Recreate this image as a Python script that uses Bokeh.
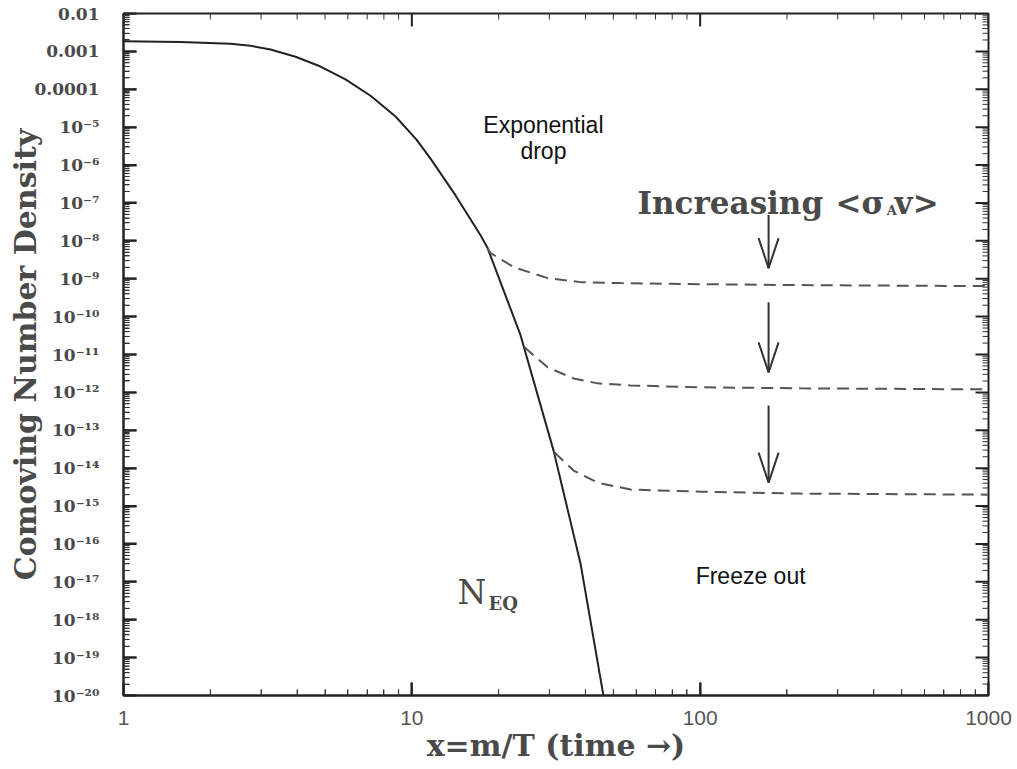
from bokeh.plotting import figure
from bokeh.models import FixedTicker, CustomJSTickFormatter
from bokeh.core.properties import value
from bokeh.embed import file_html
from bokeh.resources import INLINE

# ---- data ----
x_eq = [1.0, 1.577, 2.350, 2.757, 3.236, 3.951, 4.824, 5.888, 7.192, 8.779,
        10.38, 11.61, 14.18, 17.31, 18.31, 23.82, 31.00, 38.47, 46.23]
y_eq = [1.85e-3, 1.76e-3, 1.58e-3, 1.41e-3, 1.12e-3, 7.24e-4, 3.98e-4, 1.82e-4,
        6.76e-5, 1.91e-5, 4.68e-6, 1.48e-6, 1.58e-7, 1.41e-8, 6.46e-9, 3.24e-11,
        2.95e-14, 3.02e-17, 9.55e-21]

x_fo1 = [18.31, 18.75, 22.53, 29.56, 38.47, 52.96, 100.3, 223.0, 1000.0]
y_fo1 = [6.46e-9, 4.75e-9, 2.03e-9, 1.04e-9, 8.13e-10, 7.66e-10, 7.19e-10, 6.78e-10, 6.37e-10]

x_fo2 = [24.59, 29.56, 36.38, 44.07, 57.36, 100.3, 223.0, 1000.0]
y_fo2 = [1.55e-11, 4.58e-12, 2.34e-12, 1.73e-12, 1.53e-12, 1.36e-12, 1.28e-12, 1.20e-12]

x_fo3 = [31.26, 36.38, 44.07, 57.36, 100.3, 223.0, 1000.0]
y_fo3 = [2.59e-14, 8.65e-15, 4.16e-15, 2.72e-15, 2.40e-15, 2.13e-15, 2.00e-15]

arrow_x = 172.7
arrow_y_start = [4.82e-8, 2.40e-10, 4.53e-13]
arrow_y_end = [1.9e-9, 3.38e-12, 4.16e-15]

x_lim = [1.0, 1000.0]
y_lim = [1e-20, 1e-2]
x_tick_values = [1.0, 10.0, 100.0, 1000.0]
x_tick_labels = ["1", "10", "100", "1000"]
y_exponents = list(range(-20, -1))
y_tick_labels = ["10⁻²⁰", "10⁻¹⁹", "10⁻¹⁸", "10⁻¹⁷", "10⁻¹⁶", "10⁻¹⁵", "10⁻¹⁴",
                 "10⁻¹³", "10⁻¹²", "10⁻¹¹", "10⁻¹⁰", "10⁻⁹", "10⁻⁸", "10⁻⁷",
                 "10⁻⁶", "10⁻⁵", "0.0001", "0.001", "0.01"]
y_tick_values = [float("1e%d" % k) for k in y_exponents]

x_minor = [m * float("1e%d" % k) for k in range(0, 3) for m in range(2, 10)]
y_minor = [m * float("1e%d" % k) for k in range(-20, -2) for m in range(2, 10)]

INK = "#222222"
GREY = "#4a4a4a"
SERIF = "DejaVu Serif"
SANS = "Liberation Sans"

# frame geometry (pixels) used for tick lengths and arrow heads
FRAME_W, FRAME_H = 865, 682
MAJOR_PX, MINOR_PX = 13, 6
HEAD_HALF_W, HEAD_LEN = 10, 30

p = figure(width=1017, height=769, x_axis_type="log", y_axis_type="log",
           x_range=(x_lim[0], x_lim[1]), y_range=(y_lim[0], y_lim[1]),
           output_backend="svg", toolbar_location=None,
           min_border_left=123, min_border_right=29,
           min_border_top=13, min_border_bottom=74)
p.xgrid.grid_line_color = None
p.ygrid.grid_line_color = None
p.outline_line_color = INK
p.outline_line_width = 2

xticker = FixedTicker(ticks=x_tick_values, minor_ticks=x_minor)
yticker = FixedTicker(ticks=y_tick_values, minor_ticks=y_minor)

JS = """
let best = 0, bd = 1e9;
for (let i = 0; i < vals.length; i++) {
  const d = Math.abs(Math.log10(tick) - Math.log10(vals[i]));
  if (d < bd) { bd = d; best = i; }
}
return labs[best];
"""
xfmt = CustomJSTickFormatter(args=dict(vals=x_tick_values, labs=x_tick_labels), code=JS)
yfmt = CustomJSTickFormatter(args=dict(vals=y_tick_values, labs=y_tick_labels), code=JS)

def style(ax):
    ax.axis_line_color = INK
    ax.axis_line_width = 2
    ax.major_tick_line_color = INK
    ax.major_tick_line_width = 2
    ax.minor_tick_line_color = "#333333"
    ax.minor_tick_line_width = 1
    ax.major_tick_in = MAJOR_PX
    ax.major_tick_out = 0
    ax.minor_tick_in = MINOR_PX
    ax.minor_tick_out = 0

xa = p.xaxis[0]
xa.ticker = xticker
xa.formatter = xfmt
style(xa)
xa.major_label_text_font = SANS
xa.major_label_text_font_size = "21px"
xa.major_label_text_color = "#555555"
xa.major_label_standoff = 15
xa.axis_label = "x=m/T (time →)"
xa.axis_label_text_font = SERIF
xa.axis_label_text_font_size = "30px"
xa.axis_label_text_font_style = "bold"
xa.axis_label_text_color = GREY
xa.axis_label_standoff = 0

ya = p.yaxis[0]
ya.ticker = yticker
ya.formatter = yfmt
style(ya)
ya.major_label_text_font = SERIF
ya.major_label_text_font_size = "17px"
ya.major_label_text_font_style = "bold"
ya.major_label_text_color = GREY
ya.major_label_standoff = 24
ya.axis_label = "Comoving Number Density"
ya.axis_label_text_font = SERIF
ya.axis_label_text_font_size = "30px"
ya.axis_label_text_font_style = "bold"
ya.axis_label_text_color = GREY
ya.axis_label_standoff = -12

xdec = 3.0 / FRAME_W      # decades per pixel along x
ydec = 18.0 / FRAME_H     # decades per pixel along y

# inward tick marks on the top and right edges (and a copy on left/bottom)
def hticks(vals, px, width, color):
    f = 10 ** (px * xdec)
    n = len(vals)
    p.segment(x0=[x_lim[0]] * n, y0=vals, x1=[x_lim[0] * f] * n, y1=vals,
              line_color=color, line_width=width)
    p.segment(x0=[x_lim[1]] * n, y0=vals, x1=[x_lim[1] / f] * n, y1=vals,
              line_color=color, line_width=width)

def vticks(vals, px, width, color):
    f = 10 ** (px * ydec)
    n = len(vals)
    p.segment(x0=vals, y0=[y_lim[0]] * n, x1=vals, y1=[y_lim[0] * f] * n,
              line_color=color, line_width=width)
    p.segment(x0=vals, y0=[y_lim[1]] * n, x1=vals, y1=[y_lim[1] / f] * n,
              line_color=color, line_width=width)

hticks(y_tick_values, MAJOR_PX, 2, INK)
hticks(y_minor, MINOR_PX, 1, "#333333")
vticks(x_tick_values, MAJOR_PX, 2, INK)
vticks(x_minor, MINOR_PX, 1, "#333333")

# curves
p.line(x_eq, y_eq, line_color=INK, line_width=2)
for xs, ys in ((x_fo1, y_fo1), (x_fo2, y_fo2), (x_fo3, y_fo3)):
    p.line(xs, ys, line_color="#555555", line_width=2, line_dash="12 7")

# arrows: shafts and open V heads
n_arr = len(arrow_y_start)
p.segment(x0=[arrow_x] * n_arr, y0=arrow_y_start, x1=[arrow_x] * n_arr,
          y1=arrow_y_end, line_color="#333333", line_width=2)
fw = 10 ** (HEAD_HALF_W * xdec)
fl = 10 ** (HEAD_LEN * ydec)
p.multi_line(xs=[[arrow_x / fw, arrow_x, arrow_x * fw] for _ in arrow_y_end],
             ys=[[ye * fl, ye, ye * fl] for ye in arrow_y_end],
             line_color="#333333", line_width=2)

# annotations
def txt(x, y, s, font, size, style="normal", color=GREY, align="left",
        baseline="alphabetic", **kw):
    p.text(x=[x], y=[y], text=[s], text_font=value(font), text_font_size=size,
           text_font_style=style, text_color=color, text_align=align,
           text_baseline=baseline, **kw)

txt(60.66, 1e-7, "Increasing", SERIF, "31px", "bold")
txt(294.9, 1e-7, "<σ", SERIF, "31px", "bold")
txt(443.3, 10 ** -7.2, "A", SERIF, "13px", "bold")
txt(472.5, 1e-7, "v>", SERIF, "31px", "bold")

txt(28.6, 10 ** -5.294, "Exponential\ndrop", SANS, "23px", color="#111111",
    align="center", baseline="middle", text_line_height=1.0)
txt(149.6, 10 ** -16.84, "Freeze out", SANS, "23px", color="#111111",
    align="center", baseline="middle")

txt(14.4, 10 ** -17.29, "N", SERIF, "33px")
txt(18.45, 10 ** -17.58, "EQ", SERIF, "18px", "bold")

open("out.html", "w").write(file_html(p, INLINE))
